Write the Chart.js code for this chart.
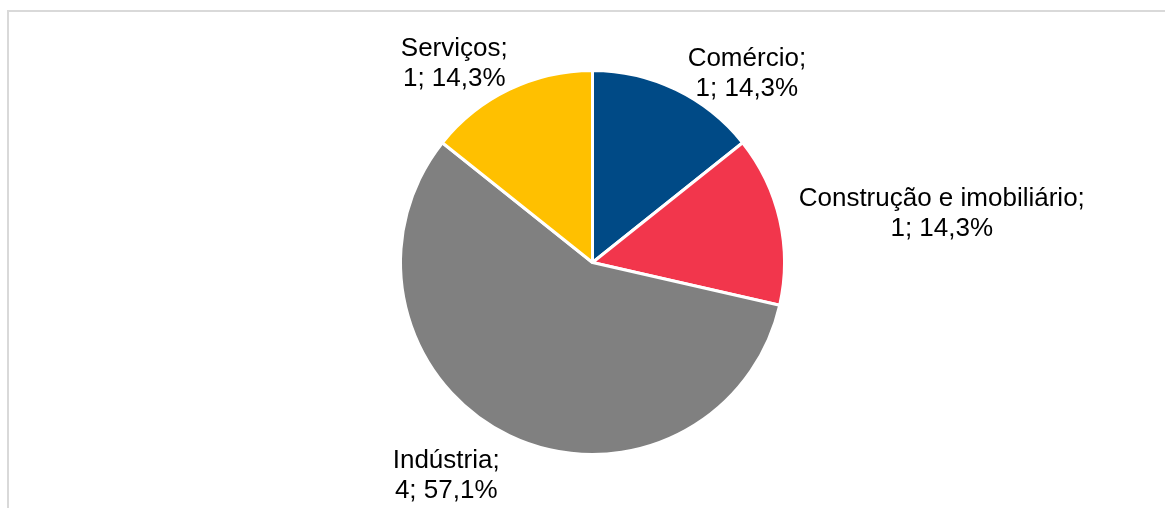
<!DOCTYPE html>
<html>
<head>
<meta charset="utf-8">
<script src="https://cdn.jsdelivr.net/npm/chart.js@4"></script>
<style>
  html, body { margin: 0; padding: 0; background: #fff; }
  #wrap { position: relative; width: 1165px; height: 508px; overflow: hidden; }
  #frame {
    position: absolute; left: 7px; top: 10px; width: 1200px; height: 600px;
    border: 2px solid #d9d9d9; box-sizing: border-box;
  }
  #grafico { position: absolute; left: 0; top: 0; }
</style>
</head>
<body>
<div id="wrap">
  <div id="frame"></div>
  <canvas id="grafico" width="1165" height="508"></canvas>
</div>
<script>
// setores e quantidade de empresas
const setores = ['Comércio', 'Construção e imobiliário', 'Indústria', 'Serviços']
const quantidades = [1, 1, 4, 1]
const cores = ['#004a86', '#f2364c', '#808080', '#ffc000']

// posição dos rótulos em relação ao centro, em unidades de raio
const posRotulos = [
  [0.804, -1.026],
  [1.819, -0.293],
  [-0.762, 1.068],
  [-0.720, -1.073]
]

function formatarPct(v, total) {
  return (v / total * 100).toFixed(1).replace('.', ',') + '%'
}

const rotulosPlugin = {
  id: 'rotulos',
  afterDatasetsDraw(chart) {
    const ctx = chart.ctx
    const meta = chart.getDatasetMeta(0)
    const dados = chart.data.datasets[0].data
    const total = dados.reduce((a, b) => a + b, 0)
    ctx.save()
    ctx.font = '26px "Liberation Sans", Arial, sans-serif'
    ctx.fillStyle = '#000'
    ctx.textAlign = 'center'
    ctx.textBaseline = 'alphabetic'
    meta.data.forEach((arc, i) => {
      const r = arc.outerRadius
      const x = arc.x + posRotulos[i][0] * r
      const y = arc.y + posRotulos[i][1] * r
      ctx.fillText(chart.data.labels[i] + ';', x, y)
      ctx.fillText(dados[i] + '; ' + formatarPct(dados[i], total), x, y + 30)
    })
    ctx.restore()
  }
}

const g = new Chart(document.getElementById('grafico'), {
  type: 'pie',
  data: {
    labels: setores,
    datasets: [{
      data: quantidades,
      backgroundColor: cores,
      borderColor: '#ffffff',
      borderWidth: 3
    }]
  },
  options: {
    responsive: false,
    animation: false,
    layout: { padding: { top: 69, bottom: 52, left: 20, right: 0 } },
    plugins: {
      legend: { display: false },
      tooltip: { enabled: false }
    }
  },
  plugins: [rotulosPlugin]
})
</script>
</body>
</html>
